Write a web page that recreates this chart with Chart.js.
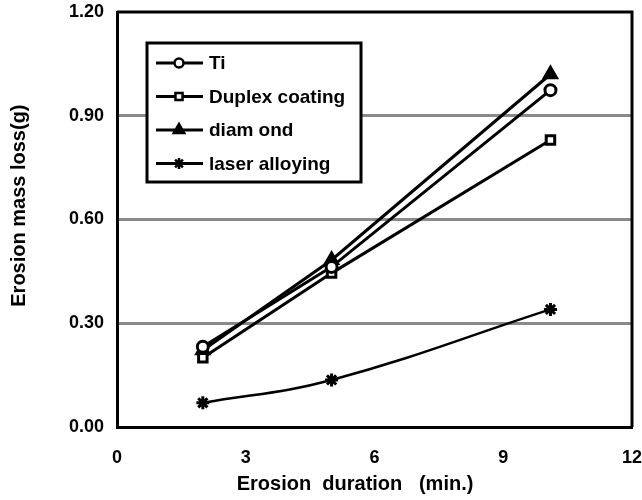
<!DOCTYPE html>
<html>
<head>
<meta charset="utf-8">
<script src="https://cdn.jsdelivr.net/npm/chart.js@4.4.1/dist/chart.umd.min.js"></script>
<style>
  html, body { margin: 0; padding: 0; background: #fff; }
  #wrap { width: 642px; height: 500px; }
</style>
</head>
<body>
<div id="wrap"><canvas id="chart" width="642" height="500"></canvas></div>
<script>
// data
const durations = [2, 5, 10.1];
const tiLoss = [0.232, 0.463, 0.974];
const duplexLoss = [0.200, 0.445, 0.830];
const diamondLoss = [0.222, 0.483, 1.020];
const laserLoss = [0.070, 0.136, 0.340];
const seriesNames = ['Ti', 'Duplex coating', 'diam ond', 'laser alloying'];
const xTicks = [0, 3, 6, 9, 12];
const yTicks = [0, 0.3, 0.6, 0.9, 1.2];

Chart.defaults.font.family = '"Liberation Sans", Arial, sans-serif';
Chart.defaults.color = '#000';

function pts(ys) {
  return durations.map((x, i) => ({ x: x, y: ys[i] }));
}

function series(label, ys, style, fill, radius, tension, width) {
  return {
    label: label,
    data: pts(ys),
    borderColor: '#000',
    backgroundColor: fill,
    borderWidth: width,
    pointStyle: style,
    pointRadius: radius,
    pointBorderWidth: 3,
    pointBorderColor: '#000',
    pointBackgroundColor: fill,
    tension: tension
  };
}

const datasets = [
  series(seriesNames[0], tiLoss, 'circle', '#fff', 5.5, 0, 3),
  series(seriesNames[1], duplexLoss, 'rect', '#fff', 6, 0, 3),
  series(seriesNames[2], diamondLoss, 'triangle', '#000', 7, 0, 3),
  series(seriesNames[3], laserLoss, 'star', '#000', 6.5, 0.4, 2.5)
];

// legend box drawn inside the plot, like the original figure
const boxLegend = {
  id: 'boxLegend',
  afterDraw(chart) {
    const ctx = chart.ctx;
    const left = 147, top = 43, w = 214, h = 139;
    ctx.save();
    ctx.fillStyle = '#fff';
    ctx.fillRect(left, top, w, h);
    ctx.lineWidth = 3;
    ctx.strokeStyle = '#000';
    ctx.strokeRect(left, top, w, h);
    ctx.font = 'bold 19px "Liberation Sans", Arial, sans-serif';
    ctx.textBaseline = 'middle';
    chart.data.datasets.forEach((ds, i) => {
      const y = 63 + i * 33.5;
      ctx.lineWidth = 3;
      ctx.strokeStyle = '#000';
      ctx.beginPath();
      ctx.moveTo(156, y);
      ctx.lineTo(203, y);
      ctx.stroke();
      ctx.lineWidth = 2.5;
      ctx.fillStyle = ds.pointBackgroundColor;
      Chart.helpers.drawPoint(ctx, {
        pointStyle: ds.pointStyle,
        radius: ds.pointRadius - 1,
        borderWidth: 2.5,
        rotation: 0
      }, 179, y);
      ctx.fillStyle = '#000';
      ctx.fillText(ds.label, 209, y + 1);
    });
    ctx.restore();
  }
};

// closes the plot box on top and right
const frame = {
  id: 'frame',
  afterDatasetsDraw(chart) {
    const a = chart.chartArea;
    const ctx = chart.ctx;
    ctx.save();
    ctx.strokeStyle = '#000';
    ctx.lineWidth = 3;
    ctx.beginPath();
    ctx.moveTo(a.left, a.top);
    ctx.lineTo(a.right, a.top);
    ctx.lineTo(a.right, a.bottom);
    ctx.stroke();
    ctx.restore();
  }
};

new Chart(document.getElementById('chart'), {
  type: 'scatter',
  data: { datasets: datasets },
  plugins: [frame, boxLegend],
  options: {
    responsive: false,
    animation: false,
    showLine: true,
    layout: { padding: { left: 0, top: 12, right: 9, bottom: 0 } },
    plugins: { legend: { display: false }, tooltip: { enabled: false } },
    scales: {
      x: {
        type: 'linear',
        min: 0,
        max: 12,
        afterBuildTicks: s => { s.ticks = xTicks.map(v => ({ value: v })); },
        afterFit: s => { s.height = 73; s.paddingLeft = 0; s.paddingRight = 0; },
        grid: { display: false, drawTicks: false },
        border: { color: '#000', width: 3 },
        ticks: { font: { size: 18, weight: 'bold' }, padding: 20, color: '#000' },
        title: {
          display: true,
          text: 'Erosion  duration   (min.)       ',
          font: { size: 20, weight: 'bold' },
          color: '#000',
          padding: { top: 0, bottom: 4 }
        }
      },
      y: {
        type: 'linear',
        min: 0,
        max: 1.2,
        afterBuildTicks: s => { s.ticks = yTicks.map(v => ({ value: v })); },
        afterFit: s => { s.width = 117; s.paddingTop = 0; s.paddingBottom = 0; },
        grid: {
          drawTicks: false,
          color: ctx => (ctx.tick && (ctx.tick.value === 0 || ctx.tick.value === 1.2)) ? 'rgba(0,0,0,0)' : '#8a8a8a',
          lineWidth: 3
        },
        border: { color: '#000', width: 3 },
        ticks: {
          font: { size: 18, weight: 'bold' },
          padding: 13,
          color: '#000',
          callback: v => v.toFixed(2)
        },
        title: {
          display: true,
          text: '     Erosion mass loss(g)',
          font: { size: 20, weight: 'bold' },
          color: '#000',
          padding: { top: 7, bottom: 0 }
        }
      }
    }
  }
});
</script>
</body>
</html>
